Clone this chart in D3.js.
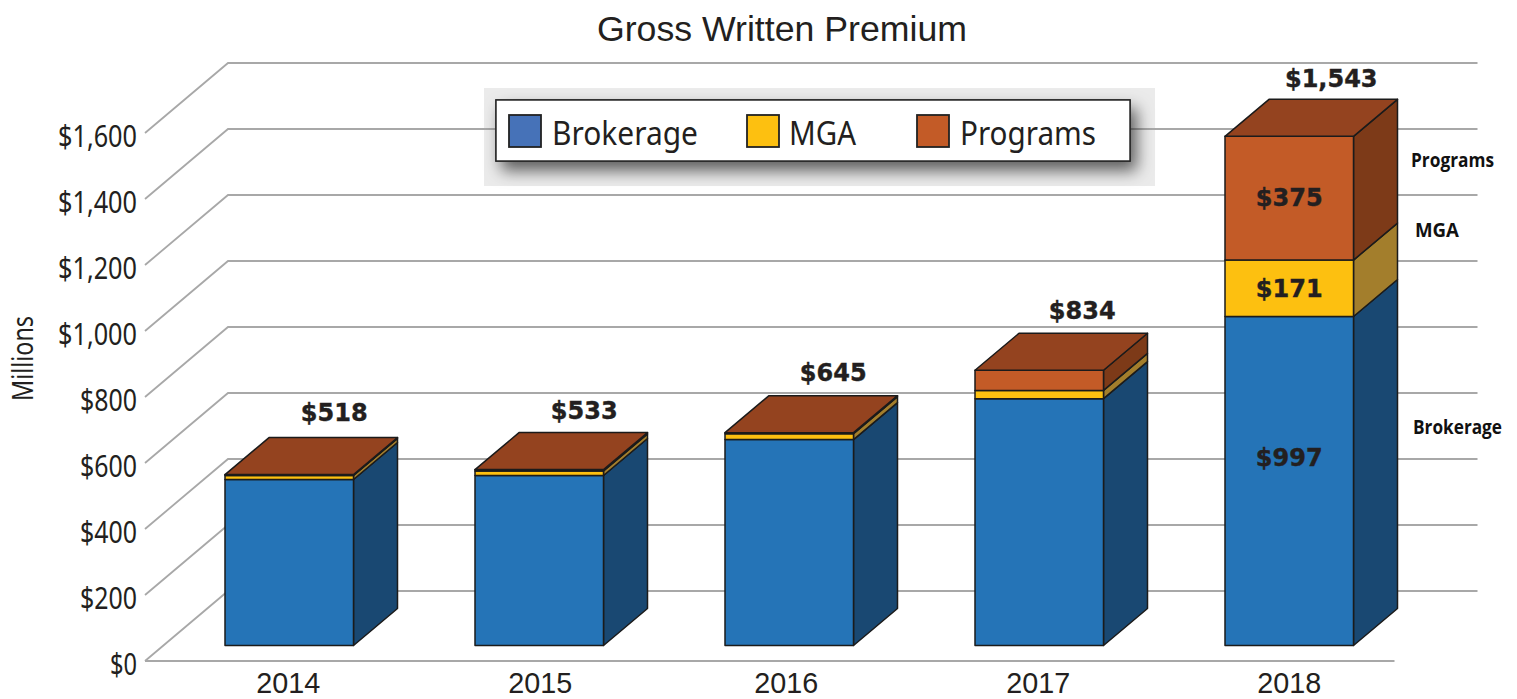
<!DOCTYPE html>
<html><head><meta charset="utf-8">
<script src="https://cdn.jsdelivr.net/npm/d3@7/dist/d3.min.js"></script>
<style>html,body{margin:0;padding:0;background:#fff;overflow:hidden}svg{display:block}</style>
</head><body><div id="chart"></div>
<script>
const years = ["2014","2015","2016","2017","2018"];
const seriesNames = ["Brokerage","MGA","Programs"];
const brokerage = [503,515,624,748,997];
const mga = [12,14,18,25,171];
const programs = [3,4,3,61,375];
const totals = [518,533,645,834,1543];
const yTicks = [0,200,400,600,800,1000,1200,1400,1600];
const title = "Gross Written Premium";
const yTitle = "Millions";
const frontColors = ["#2574b7","#fdc010","#c35b27"];
const sideColors = ["#194872","#a37e2c","#7d3a18"];
const topColor = "#94431f";
const legendColors = ["#4672b8","#fdc010","#c35b27"];

const W=1517,H=699;
const svg=d3.select("#chart").append("svg").attr("width",W).attr("height",H);
const defs=svg.append("defs");
const f=defs.append("filter").attr("id","sh").attr("x","-10%").attr("y","-40%").attr("width","120%").attr("height","190%");
f.append("feDropShadow").attr("dx",6).attr("dy",9).attr("stdDeviation",8).attr("flood-color","#000").attr("flood-opacity",0.6);

const y=d3.scaleLinear().domain([0,1600]).range([661,133]);
const gridDx=83, gridDy=-70;
const xBand=d3.scalePoint().domain(years).range([225,1225]);
const barW=128.5, barDx=44, barDy=-37;
const barBaseShift=-15.5;

// legend backdrop sits under the grid lines
svg.append("rect").attr("x",484).attr("y",88).attr("width",671).attr("height",98).attr("fill","#ebebeb");

const grid=svg.append("g").attr("fill","none").attr("stroke","#a8a8a8").attr("stroke-width",1.8);
const x0=145,x1=1394.5;
yTicks.forEach(t=>{
  const py=y(t);
  grid.append("path").attr("d",d3.line()([[x0,py],[x0+gridDx,py+gridDy],[x1+gridDx,py+gridDy]]));
});
grid.append("path").attr("stroke-width",2).attr("d",d3.line()([[x0,y(0)],[x1,y(0)]]));

// legend
svg.append("rect").attr("x",496).attr("y",100).attr("width",634).attr("height",61).attr("fill","#fff").attr("stroke","#222").attr("stroke-width",1.5).attr("filter","url(#sh)");
svg.append("rect").attr("x",496).attr("y",100).attr("width",634).attr("height",61).attr("fill","#fff").attr("stroke","#2a2a2a").attr("stroke-width",1.5);
const legendX=d3.scaleOrdinal().domain(seriesNames).range([509,747,917]);
const legendTextGap=[43,42,43];
const legendW=[146,67,136];
seriesNames.forEach((n,i)=>{
  svg.append("rect").attr("x",legendX(n)).attr("y",115).attr("width",32).attr("height",32).attr("fill",legendColors[i]).attr("stroke","#222").attr("stroke-width",1.8);
  svg.append("text").attr("x",legendX(n)+legendTextGap[i]).attr("y",145).text(n)
    .attr("font-family","'Noto Sans'").attr("font-size",32).attr("fill","#231f20")
    .attr("textLength",legendW[i]).attr("lengthAdjust","spacingAndGlyphs");
});

// bars
const stacks=d3.stack().keys([0,1,2]).value((d,k)=>d[k])(years.map((_,i)=>[brokerage[i],mga[i],programs[i]]));
const bars=svg.append("g").attr("stroke","#1b1b1b").attr("stroke-width",1.5).attr("stroke-linejoin","round");
years.forEach((yr,i)=>{
  const gx=xBand(yr);
  stacks.forEach((s,k)=>{
    const a=y(s[i][0])+barBaseShift, b=y(s[i][1])+barBaseShift;
    const xr=gx+barW;
    bars.append("path").attr("fill",sideColors[k]).attr("d",d3.line()([[xr,a],[xr+barDx,a+barDy],[xr+barDx,b+barDy],[xr,b]])+"Z");
    bars.append("rect").attr("x",gx).attr("y",b).attr("width",barW).attr("height",a-b).attr("fill",frontColors[k]);
  });
  const t=y(stacks[2][i][1])+barBaseShift;
  bars.append("path").attr("fill",topColor).attr("d",d3.line()([[gx,t],[gx+barW,t],[gx+barW+barDx,t+barDy],[gx+barDx,t+barDy]])+"Z");
});

// total labels
const labelStyle=s=>s.attr("font-family","'DejaVu Sans'").attr("font-weight","bold").attr("font-size",24)
  .attr("fill","#231f20").attr("stroke","#231f20").attr("stroke-width",0.4).attr("text-anchor","middle");
const totalNudgeX=[0,0,-1,-2,-3], totalNudgeY=[-3,0,-1,0,2];
years.forEach((yr,i)=>{
  const t=y(stacks[2][i][1])+barBaseShift;
  svg.append("text").attr("x",xBand(yr)+barW/2+45+totalNudgeX[i]).attr("y",t+barDy-14+totalNudgeY[i])
    .call(labelStyle).text("$"+d3.format(",")(totals[i]));
});
// inner labels of last bar
const innerNudgeY=[-24,0,-1];
stacks.forEach((s,k)=>{
  const i=years.length-1;
  const m=(y(s[i][0])+y(s[i][1]))/2+barBaseShift;
  svg.append("text").attr("x",xBand(years[i])+barW/2).attr("y",m+9+innerNudgeY[k])
    .call(labelStyle).text("$"+[brokerage,mga,programs][k][i]);
});
// side labels
const sideX=[1413,1415,1411], sideY=[434,237,167], sideW=[89,44,83];
seriesNames.forEach((n,i)=>{
  svg.append("text").attr("x",sideX[i]).attr("y",sideY[i]).text(n).attr("font-family","'Open Sans'").attr("font-weight","bold")
   .attr("font-size",20).attr("fill","#111").attr("textLength",sideW[i]).attr("lengthAdjust","spacingAndGlyphs");
});
// y axis labels
yTicks.forEach(t=>{
  const s="$"+d3.format(",")(t);
  const w= t>=1000?79: t>0?57:27;
  svg.append("text").attr("x",137-w).attr("y",y(t)+14).text(s).attr("font-family","'Noto Sans'").attr("font-size",30).attr("fill","#231f20")
    .attr("textLength",w).attr("lengthAdjust","spacingAndGlyphs");
});
// x labels
const yearNudge=[0,2,-2,0,1];
years.forEach((yr,i)=>{
  const xs=xBand(yr)+barW/2-1+yearNudge[i];
  svg.append("text").attr("x",xs-32).attr("y",692.5).text(yr).attr("font-family","'Liberation Sans'").attr("font-size",30).attr("fill","#231f20")
    .attr("textLength",64).attr("lengthAdjust","spacingAndGlyphs");
});
svg.append("text").attr("x",-401).attr("y",33).attr("transform","rotate(-90)").text(yTitle)
  .attr("font-family","'Noto Sans'").attr("font-size",29).attr("fill","#231f20")
  .attr("textLength",85).attr("lengthAdjust","spacingAndGlyphs");
svg.append("text").attr("x",782).attr("y",41).attr("text-anchor","middle").text(title)
  .attr("font-family","'Liberation Sans'").attr("font-size",35.7).attr("fill","#231f20");
</script></body></html>
